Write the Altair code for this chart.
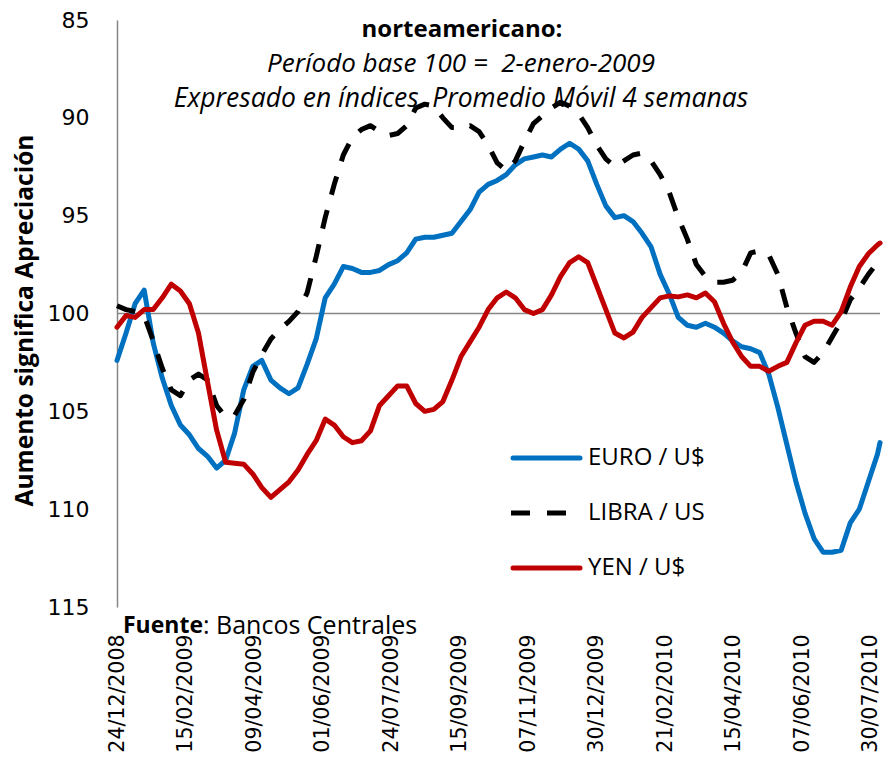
import altair as alt
import pandas as pd

# weekly observation dates (every 7 days from 24/12/2008) plus the last day shown
dates = list(pd.date_range("2008-12-24", periods=85, freq="7D")) + [pd.Timestamp("2010-08-06")]

euro = [
    102.4, 101.0, 99.5, 98.8, 101.5, 103.3, 104.7, 105.7, 106.2, 106.9,
    107.3, 107.9, 107.5, 106.1, 103.9, 102.7, 102.4, 103.4, 103.8, 104.1,
    103.8, 102.6, 101.3, 99.2, 98.5, 97.6, 97.7, 97.9, 97.9, 97.8,
    97.5, 97.3, 96.9, 96.2, 96.1, 96.1, 96.0, 95.9, 95.3, 94.7,
    93.8, 93.4, 93.2, 92.9, 92.4, 92.1, 92.0, 91.9, 92.0, 91.6,
    91.3, 91.6, 92.2, 93.4, 94.5, 95.1, 95.0, 95.3, 95.9, 96.6,
    98.0, 99.0, 100.2, 100.6, 100.7, 100.5, 100.7, 101.0, 101.4, 101.7,
    101.8, 102.0, 103.1, 104.8, 106.7, 108.6, 110.2, 111.5, 112.2, 112.2,
    112.1, 110.7, 110.0, 108.6, 107.2, 106.6,
]

libra = [
    99.6, 99.8, 99.9, 100.1, 101.4, 102.8, 103.9, 104.2, 103.4, 103.1,
    103.4, 104.7, 105.3, 105.2, 104.4, 103.0, 102.1, 101.3, 100.8, 100.4,
    99.9, 98.95, 97.1, 95.1, 93.4, 91.9, 91.0, 90.6, 90.4, 90.7,
    90.9, 90.8, 90.4, 89.5, 89.3, 89.4, 90.0, 90.5, 90.5, 90.4,
    90.7, 91.4, 92.3, 92.7, 92.2, 91.2, 90.3, 89.9, 89.5, 89.2,
    89.4, 89.8, 90.5, 91.4, 92.1, 92.5, 92.2, 91.9, 91.8, 92.2,
    92.9, 93.8, 95.1, 96.2, 97.5, 98.1, 98.4, 98.4, 98.3, 97.9,
    96.9, 96.8, 97.0, 98.0, 99.7, 101.0, 102.2, 102.5, 102.0, 101.2,
    100.4, 99.3, 98.7, 98.0, 97.4, 97.1,
]

yen = [
    100.7, 100.1, 100.2, 99.8, 99.8, 99.2, 98.5, 98.85, 99.5, 101.0,
    103.5, 105.95, 107.6, 107.65, 107.7, 108.2, 108.9, 109.4, 109.0, 108.6,
    108.0, 107.2, 106.5, 105.4, 105.7, 106.3, 106.6, 106.5, 106.0, 104.7,
    104.2, 103.7, 103.7, 104.6, 105.0, 104.9, 104.5, 103.4, 102.2, 101.45,
    100.7, 99.8, 99.2, 98.9, 99.2, 99.8, 100.0, 99.8, 99.05, 98.1,
    97.4, 97.1, 97.4, 98.6, 99.8, 101.0, 101.25, 100.95, 100.2, 99.7,
    99.2, 99.1, 99.15, 99.05, 99.2, 98.95, 99.4, 100.5, 101.45, 102.2,
    102.7, 102.7, 102.95, 102.7, 102.5, 101.5, 100.6, 100.4, 100.4, 100.6,
    99.9, 98.65, 97.6, 96.95, 96.5, 96.4,
]

tick_dates = ["2008-12-24", "2009-02-15", "2009-04-09", "2009-06-01", "2009-07-24",
              "2009-09-15", "2009-11-07", "2009-12-30", "2010-02-21", "2010-04-15",
              "2010-06-07", "2010-07-30"]
y_ticks = [85, 90, 95, 100, 105, 110, 115]
base_line = [100]

series_names = ["EURO / U$", "LIBRA / US", "YEN / U$"]
title_lines = ["norteamericano:", "Período base 100 =\u00a0 2-enero-2009",
               "Expresado en índices. Promedio Móvil 4 semanas"]
source_bold = "Fuente"
source_rest = ": Bancos Centrales"
y_title = "Aumento significa Apreciación"

df = pd.DataFrame({"date": dates, "euro": euro, "libra": libra, "yen": yen})


def dt(s):
    y, m, d = (int(v) for v in s.split("-"))
    return alt.DateTime(year=y, month=m, date=d)


x_scale = alt.Scale(domain=[dt("2008-12-24"), dt("2010-08-06")])
y_scale = alt.Scale(domain=[85, 115], reverse=True, nice=False, zero=False)

x_enc = alt.X(
    "date:T", scale=x_scale,
    axis=alt.Axis(values=[dt(s) for s in tick_dates], format="%d/%m/%Y",
                  labelAngle=270, labelFont="DejaVu Sans", labelFontSize=20.5,
                  labelColor="#000000", labelPadding=27, labelFlush=False,
                  labelOverlap=False, domain=False, ticks=False, grid=False,
                  title=None),
)

y_axis = alt.Axis(values=y_ticks, labelFont="DejaVu Sans", labelFontSize=22,
                  labelColor="#000000", labelPadding=28, ticks=False, grid=False,
                  domainColor="#868686", domainWidth=1.5,
                  title=y_title, titleFont="Open Sans", titleFontSize=24.5,
                  titleFontWeight="bold", titleColor="#000000", titleAngle=270,
                  titleX=-92, titleY=300, titleAlign="center", titleBaseline="middle")

rule100 = alt.Chart(pd.DataFrame({"v": base_line})).mark_rule(
    color="#868686", strokeWidth=1.5
).encode(y=alt.Y("v:Q", scale=y_scale, axis=y_axis))

euro_line = alt.Chart(df).mark_line(
    color="#0070C0", strokeWidth=5, strokeJoin="round", strokeCap="round"
).encode(x=x_enc, y=alt.Y("euro:Q", scale=y_scale, axis=y_axis))

libra_line = alt.Chart(df).mark_line(
    color="#000000", strokeWidth=5, strokeDash=[19, 16], strokeCap="butt", strokeJoin="round"
).encode(x=x_enc, y=alt.Y("libra:Q", scale=y_scale, axis=y_axis))

yen_line = alt.Chart(df).mark_line(
    color="#C00000", strokeWidth=5, strokeJoin="round", strokeCap="round"
).encode(x=x_enc, y=alt.Y("yen:Q", scale=y_scale, axis=y_axis))

one = pd.DataFrame({"a": [0]})

# title lines (overlaid on the top of the plot)
t1 = alt.Chart(one).mark_text(text=title_lines[0], font="Open Sans", fontSize=24,
                              fontWeight="bold", color="#000000", align="center",
                              baseline="middle").encode(x=alt.value(345), y=alt.value(10))
t2 = alt.Chart(one).mark_text(text=title_lines[1], font="Open Sans", fontSize=26,
                              fontStyle="italic", color="#000000", align="center",
                              baseline="middle").encode(x=alt.value(344), y=alt.value(44))
t3 = alt.Chart(one).mark_text(text=title_lines[2], font="Open Sans", fontSize=26.5,
                              fontStyle="italic", color="#000000", align="center",
                              baseline="middle").encode(x=alt.value(344), y=alt.value(79))

# source note
s1 = alt.Chart(one).mark_text(text=source_bold, font="Open Sans", fontSize=23,
                              fontWeight="bold", color="#000000", align="left",
                              baseline="middle").encode(x=alt.value(6), y=alt.value(606))
s2 = alt.Chart(one).mark_text(text=source_rest, font="Open Sans", fontSize=25,
                              color="#000000", align="left",
                              baseline="middle").encode(x=alt.value(86), y=alt.value(606))

# legend
lg_euro = alt.Chart(one).mark_rule(color="#0070C0", strokeWidth=5, strokeCap="round").encode(
    x=alt.value(396), x2=alt.value(463), y=alt.value(438))
lg_libra = alt.Chart(one).mark_rule(color="#000000", strokeWidth=5, strokeDash=[19, 17],
                                    strokeCap="butt").encode(
    x=alt.value(394), x2=alt.value(450), y=alt.value(493))
lg_yen = alt.Chart(one).mark_rule(color="#C00000", strokeWidth=5, strokeCap="round").encode(
    x=alt.value(396), x2=alt.value(463), y=alt.value(548))

lt = []
for name, yy in zip(series_names, [438, 493, 548]):
    lt.append(alt.Chart(one).mark_text(text=name, font="Open Sans", fontSize=24,
                                       color="#000000", align="left", baseline="middle")
              .encode(x=alt.value(471), y=alt.value(yy)))

chart = alt.layer(
    rule100, euro_line, libra_line, yen_line,
    t1, t2, t3, s1, s2, lg_euro, lg_libra, lg_yen, *lt
).properties(
    width=763, height=587,
    autosize=alt.AutoSizeParams(type="none"),
    padding={"left": 109, "top": 12, "right": 7, "bottom": 146},
    background="#ffffff",
).configure_view(stroke=None)

chart.save("out.html", embed_options={"renderer": "svg", "actions": False})
